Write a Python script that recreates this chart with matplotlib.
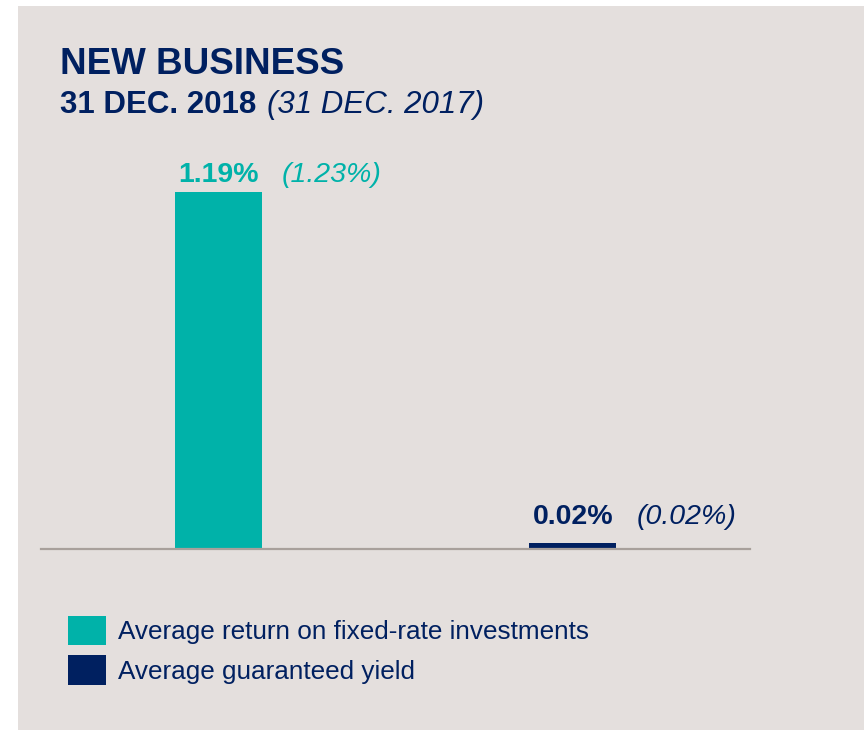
import matplotlib.pyplot as plt
from matplotlib.patches import Patch, Rectangle

# Data
categories = ['Average return on fixed-rate investments', 'Average guaranteed yield']
values_2018 = [1.19, 0.02]
values_2017 = [1.23, 0.02]
labels_2018 = ['1.19%', '0.02%']
labels_2017 = ['(1.23%)', '(0.02%)']

teal = '#00b2a9'
navy = '#002060'
bar_colors = [teal, navy]
panel_bg = '#e4dfdd'

plt.rcParams['font.family'] = ['Liberation Sans', 'DejaVu Sans']

W, H = 867, 730
fig = plt.figure(figsize=(W / 100, H / 100), dpi=100)
fig.patch.set_facecolor('white')

# grey panel behind everything
fig.add_artist(Rectangle((18 / W, 0), (864 - 18) / W, 1 - 6 / H,
                         transform=fig.transFigure, facecolor=panel_bg,
                         edgecolor='none', zorder=0))

# Bars
ax = fig.add_axes([41 / W, 1 - 549 / H, (750 - 41) / W, (549 - 192) / H])
ax.set_facecolor('none')
x = range(len(values_2018))
bars = ax.bar(x, values_2018, width=0.245, color=bar_colors)
ax.set_xlim(-0.5, 1.5)
ax.set_ylim(0, 1.19)
for s in ['top', 'left', 'right']:
    ax.spines[s].set_visible(False)
ax.spines['bottom'].set_color('#a8a09b')
ax.spines['bottom'].set_linewidth(1.6)
ax.set_xticks([])
ax.set_yticks([])

# Title
fig.text(60 / W, 1 - 74 / H, 'NEW BUSINESS', fontsize=26.5,
         fontweight='bold', color=navy, va='baseline')
t2 = fig.text(60 / W, 1 - 113 / H, '31 DEC. 2018', fontsize=22.5,
              fontweight='bold', color=navy, va='baseline')
ax.annotate('(31 DEC. 2017)', xy=(1, 0), xycoords=t2,
            xytext=(8, 0), textcoords='offset points',
            fontsize=22.5, style='italic', color=navy, va='bottom',
            annotation_clip=False)

# value labels
label_pads = [7, 13.5]
for bar, lab, old, col, pad in zip(bars, labels_2018, labels_2017, bar_colors, label_pads):
    cx = bar.get_x() + bar.get_width() / 2
    top = bar.get_height()
    ax.annotate(lab, xy=(cx, top), xytext=(0, pad), textcoords='offset points',
                ha='center', va='baseline', fontsize=20.5, fontweight='bold',
                color=col, annotation_clip=False)
    ax.annotate(old, xy=(bar.get_x() + bar.get_width(), top), xytext=(14.4, pad),
                textcoords='offset points', ha='left', va='baseline',
                fontsize=20.5, style='italic', color=col, annotation_clip=False)

# Legend
handles = [Patch(facecolor=c, edgecolor='none') for c in bar_colors]
fig.legend(handles, categories, loc='upper left',
           bbox_to_anchor=(68 / W, 1 - 616 / H), frameon=False,
           fontsize=18.8, labelcolor=navy, handlelength=1.46,
           handleheight=1.334, handletextpad=0.46, labelspacing=0.4,
           borderpad=0, borderaxespad=0)

fig.savefig('out.png', dpi=100)
